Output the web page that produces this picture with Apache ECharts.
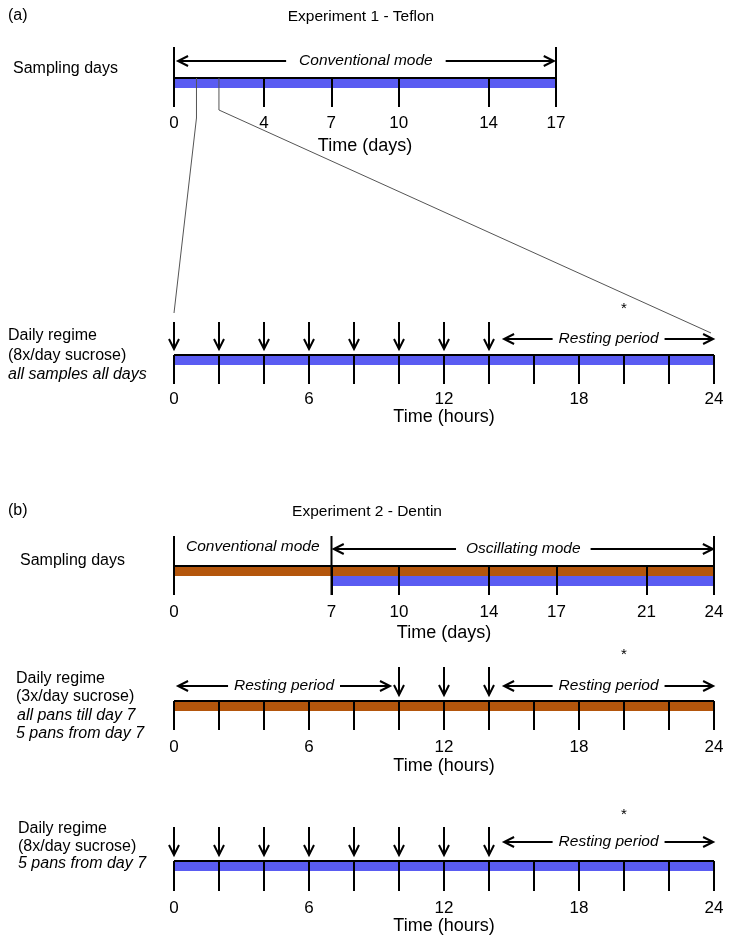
<!DOCTYPE html>
<html><head><meta charset="utf-8">
<script src="https://cdn.jsdelivr.net/npm/echarts@6/dist/echarts.min.js"></script>
<style>html,body{margin:0;padding:0;background:#fff}#c{width:731px;height:937px}</style>
</head><body><div id="c"></div>
<script>
// ---------------- data ----------------
const daysTicksA = [0, 4, 7, 10, 14, 17];
const daysEndsA = [0, 17];
const daysTicksB = [0, 7, 10, 14, 17, 21, 24];
const daysEndsB = [0, 7, 24];
const hourTicks = [0, 2, 4, 6, 8, 10, 12, 14, 16, 18, 20, 22, 24];
const hourLabels = [0, 6, 12, 18, 24];
const sucrose8x = [0, 2, 4, 6, 8, 10, 12, 14];
const sucrose3x = [10, 12, 14];
const asteriskHour = [20];
const zoomDays = [1, 2];
// bars: [start, end, colour key, band]
const barsDaysA = [[0, 17, 'blue', 0]];
const barsHoursA = [[0, 24, 'blue', 0]];
const barsDaysB = [[0, 24, 'brown', 0], [7, 24, 'blue', 1]];
const barsHoursB3x = [[0, 24, 'brown', 0]];
const barsHoursB8x = [[0, 24, 'blue', 0]];
// spans with double arrows: [from, to]
const spanConvA = [[0.18, 16.9]];
const spanLabelsConvA = ['Conventional mode'];
const spanOscB = [[7.1, 23.95]];
const spanLabelsOscB = ['Oscillating mode'];
const textConvB = [[0, 7]];
const textLabelsConvB = ['Conventional mode'];
const restA = [[14.67, 23.96]];
const restB3x = [[0.18, 9.6], [14.67, 23.96]];
const restB8x = [[14.67, 23.96]];
const restLabel = 'Resting period';

// ---------------- style ----------------
const FONT = '"Liberation Sans", Arial, Helvetica, sans-serif';
const COLORS = { blue: '#5a5cf2', brown: '#b4560c' };
const BAND = 10;
const mctx = document.createElement('canvas').getContext('2d');
function textW(font, s) { mctx.font = font; return mctx.measureText(s).width; }

const panels = [
  { top: 78, width: 382, h: 29, max: 17, ticks: daysTicksA, labels: daysTicksA, name: 'Time (days)', lm: 7.5, ng: 30,
    bars: barsDaysA, ends: daysEndsA, endTop: -31, spans: spanConvA, spanLabels: spanConvA.map((_, i) => spanLabelsConvA[i]), spanY: -17, spanGap: 13 },
  { top: 355, width: 540, h: 29, max: 24, ticks: hourTicks, labels: hourLabels, name: 'Time (hours)', lm: 6.5, ng: 24,
    bars: barsHoursA, arrows: sucrose8x, arrTop: -33, arrTip: -6, spans: restA, spanLabels: restA.map(() => restLabel), spanY: -16, spanGap: 6, star: -49 },
  { top: 566, width: 540, h: 29, max: 24, ticks: daysTicksB, labels: daysTicksB, name: 'Time (days)', lm: 8.5, ng: 29,
    bars: barsDaysB, ends: daysEndsB, endTop: -30, spans: spanOscB, spanLabels: spanLabelsOscB, spanY: -17, spanGap: 10,
    texts: textConvB, textLabels: textLabelsConvB, textY: -19 },
  { top: 701, width: 540, h: 29, max: 24, ticks: hourTicks, labels: hourLabels, name: 'Time (hours)', lm: 8.5, ng: 27,
    bars: barsHoursB3x, arrows: sucrose3x, arrTop: -34, arrTip: -6, spans: restB3x, spanLabels: restB3x.map(() => restLabel), spanY: -15, spanGap: 6, star: -49 },
  { top: 861, width: 540, h: 30, max: 24, ticks: hourTicks, labels: hourLabels, name: 'Time (hours)', lm: 8.5, ng: 23,
    bars: barsHoursB8x, arrows: sucrose8x, arrTop: -34, arrTip: -6, spans: restB8x, spanLabels: restB8x.map(() => restLabel), spanY: -19, spanGap: 6, star: -49 }
];

const ITALIC = 'italic 15.5px ' + FONT;
const grids = [], xAxes = [], yAxes = [], series = [];

function lineEl(x1, y1, x2, y2, w) {
  return { type: 'line', shape: { x1, y1, x2, y2 }, style: { stroke: '#000', lineWidth: w || 2 } };
}

panels.forEach((p, i) => {
  grids.push({ left: 174, top: p.top, width: p.width, height: p.h, outerBoundsMode: 'none', containLabel: false });
  xAxes.push({
    gridIndex: i, type: 'value', min: 0, max: p.max, z: 5,
    axisLine: { show: false }, splitLine: { show: false },
    axisTick: { show: true, inside: true, length: p.h, customValues: p.ticks, lineStyle: { color: '#000', width: 2 } },
    axisLabel: { customValues: p.labels, margin: p.lm, fontSize: 17, color: '#000', fontFamily: FONT },
    name: p.name, nameLocation: 'middle', nameGap: p.ng,
    nameTextStyle: { fontSize: 18, color: '#000', fontFamily: FONT }
  });
  yAxes.push({ gridIndex: i, type: 'value', min: 0, max: 1, show: false });

  // bars
  series.push({
    type: 'custom', xAxisIndex: i, yAxisIndex: i, z: 2, silent: true,
    data: p.bars.map(b => [b[0], b[1]]),
    renderItem: (params, api) => {
      const b = p.bars[params.dataIndex];
      const a = api.coord([b[0], 1]), c = api.coord([b[1], 1]);
      const y = a[1] + b[3] * BAND;
      const ch = [{ type: 'rect', shape: { x: a[0], y: y, width: c[0] - a[0], height: BAND }, style: { fill: COLORS[b[2]] } }];
      if (b[3] === 0) ch.push(lineEl(a[0], a[1], c[0], a[1], 2));
      return { type: 'group', children: ch };
    }
  });
  // long end ticks
  if (p.ends) series.push({
    type: 'custom', xAxisIndex: i, yAxisIndex: i, z: 6, silent: true,
    data: p.ends.map(v => [v]),
    renderItem: (params, api) => {
      const t = api.coord([api.value(0), 1]), b = api.coord([api.value(0), 0]);
      return lineEl(t[0], t[1] + p.endTop, b[0], b[1], 2);
    }
  });
  // sucrose arrows
  if (p.arrows) series.push({
    type: 'custom', xAxisIndex: i, yAxisIndex: i, z: 6, silent: true,
    data: p.arrows.map(v => [v]),
    renderItem: (params, api) => {
      const t = api.coord([api.value(0), 1]);
      const x = t[0], y0 = t[1] + p.arrTop, y1 = t[1] + p.arrTip;
      return { type: 'group', children: [
        lineEl(x, y0, x, y1 - 1, 2),
        { type: 'polyline', shape: { points: [[x - 5, y1 - 10], [x, y1], [x + 5, y1 - 10]] }, style: { stroke: '#000', lineWidth: 2, fill: null } }
      ] };
    }
  });
  // asterisk
  if (p.star !== undefined) series.push({
    type: 'custom', xAxisIndex: i, yAxisIndex: i, z: 6, silent: true,
    data: asteriskHour.map(v => [v]),
    renderItem: (params, api) => {
      const t = api.coord([api.value(0), 1]);
      return { type: 'text', style: { text: '*', x: t[0], y: t[1] + p.star + 3, align: 'center', verticalAlign: 'middle', font: '15px ' + FONT, fill: '#000' } };
    }
  });
  // spans with double arrows
  if (p.spans) series.push({
    type: 'custom', xAxisIndex: i, yAxisIndex: i, z: 6, silent: true,
    data: p.spans.map(s => [s[0], s[1]]),
    renderItem: (params, api) => {
      const a = api.coord([api.value(0), 1]), b = api.coord([api.value(1), 1]);
      const y = a[1] + p.spanY, x1 = a[0], x2 = b[0], cx = (x1 + x2) / 2;
      const label = p.spanLabels[params.dataIndex];
      const w = textW(ITALIC, label);
      const l = cx - w / 2 - p.spanGap, r = cx + w / 2 + p.spanGap;
      return { type: 'group', children: [
        lineEl(x1 + 1, y, l, y, 2), lineEl(r, y, x2 - 1, y, 2),
        { type: 'polyline', shape: { points: [[x1 + 10, y - 5], [x1, y], [x1 + 10, y + 5]] }, style: { stroke: '#000', lineWidth: 2, fill: null } },
        { type: 'polyline', shape: { points: [[x2 - 10, y - 5], [x2, y], [x2 - 10, y + 5]] }, style: { stroke: '#000', lineWidth: 2, fill: null } },
        { type: 'text', style: { text: label, x: cx, y: y, align: 'center', verticalAlign: 'middle', font: ITALIC, fill: '#000' } }
      ] };
    }
  });
  // plain span texts
  if (p.texts) series.push({
    type: 'custom', xAxisIndex: i, yAxisIndex: i, z: 6, silent: true,
    data: p.texts.map(s => [s[0], s[1]]),
    renderItem: (params, api) => {
      const a = api.coord([api.value(0), 1]), b = api.coord([api.value(1), 1]);
      return { type: 'text', style: { text: p.textLabels[params.dataIndex], x: (a[0] + b[0]) / 2, y: a[1] + p.textY, align: 'center', verticalAlign: 'middle', font: ITALIC, fill: '#000' } };
    }
  });
});

// row labels and titles
const NORMAL = '16px ' + FONT, ITAL16 = 'italic 16px ' + FONT;
const leftTexts = [
  ['(a)', 8, 17, NORMAL], ['(b)', 8, 512, NORMAL],
  ['Sampling days', 13, 70, NORMAL],
  ['Daily regime', 8, 337, NORMAL], ['(8x/day sucrose)', 8, 357, NORMAL], ['all samples all days', 8, 376, ITAL16],
  ['Sampling days', 20, 562, NORMAL],
  ['Daily regime', 16, 680, NORMAL], ['(3x/day sucrose)', 16, 698, NORMAL], ['all pans till day 7', 17, 717, ITAL16], ['5 pans from day 7', 16, 735, ITAL16],
  ['Daily regime', 18, 830, NORMAL], ['(8x/day sucrose)', 18, 848, NORMAL], ['5 pans from day 7', 18, 865, ITAL16]
];
const graphics = leftTexts.map(t => ({ type: 'text', left: t[1], top: t[2] - 9, style: { text: t[0], font: t[3], fill: '#000' } }));
graphics.push({ type: 'text', x: 361, y: 17, style: { text: 'Experiment 1 - Teflon', font: '15.5px ' + FONT, fill: '#000', align: 'center', verticalAlign: 'middle' } });
graphics.push({ type: 'text', x: 367, y: 512, style: { text: 'Experiment 2 - Dentin', font: '15.5px ' + FONT, fill: '#000', align: 'center', verticalAlign: 'middle' } });

const chart = echarts.init(document.getElementById('c'), null, { renderer: 'canvas', width: 731, height: 937 });
chart.setOption({ animation: false, backgroundColor: '#fff', grid: grids, xAxis: xAxes, yAxis: yAxes, series: series, graphic: graphics });

// zoom lines from days 1 and 2 of panel (a) to the hourly regime
const d1 = chart.convertToPixel({ xAxisIndex: 0, yAxisIndex: 0 }, [zoomDays[0], 1]);
const d2 = chart.convertToPixel({ xAxisIndex: 0, yAxisIndex: 0 }, [zoomDays[1], 1]);
const h0 = chart.convertToPixel({ xAxisIndex: 1, yAxisIndex: 1 }, [0, 1]);
const h24 = chart.convertToPixel({ xAxisIndex: 1, yAxisIndex: 1 }, [24, 1]);
graphics.push({ type: 'polyline', z: 100, shape: { points: [[d1[0], d1[1]], [d1[0], d1[1] + 40], [h0[0], h0[1] - 42]] }, style: { stroke: '#555', lineWidth: 1, fill: null } });
graphics.push({ type: 'polyline', z: 100, shape: { points: [[d2[0], d2[1]], [d2[0], d2[1] + 32], [h24[0] - 3, h24[1] - 22]] }, style: { stroke: '#555', lineWidth: 1, fill: null } });
chart.setOption({ graphic: graphics });
</script></body></html>
